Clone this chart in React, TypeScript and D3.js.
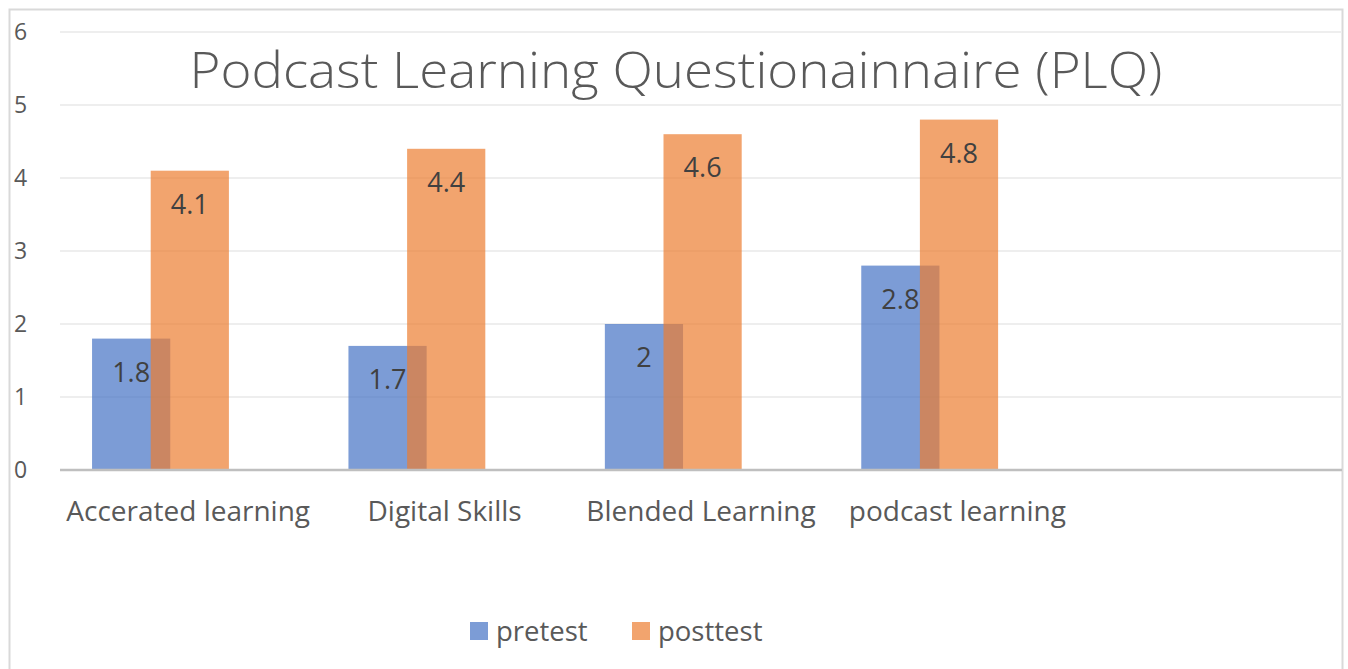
import React from 'react';
import * as d3 from 'd3';

const categories = ['Accerated learning', 'Digital Skills', 'Blended Learning', 'podcast learning', ''];
const pretest = [1.8, 1.7, 2, 2.8];
const posttest = [4.1, 4.4, 4.6, 4.8];
const seriesNames = ['pretest', 'posttest'];
const yTicks = [0, 1, 2, 3, 4, 5, 6];

const W = 1348;
const H = 669;
const FONT = '"Open Sans", "Noto Sans", sans-serif';
const BLUE = '#4472C4';
const ORANGE = '#ED7D31';

const App = () => {
  const x = d3.scaleBand().domain(categories).range([60, 1342]).padding(0);
  const y = d3.scaleLinear().domain([0, 6]).range([470, 32]);

  const bw = x.bandwidth();
  const barW = bw * 0.305;
  const seriesStep = barW * 0.75;
  const clusterOffset = bw * 0.125;

  const series = [
    { name: seriesNames[0], values: pretest, color: BLUE, i: 0 },
    { name: seriesNames[1], values: posttest, color: ORANGE, i: 1 },
  ];

  return (
    <svg width={W} height={H} style={{ position: 'absolute', left: 0, top: 0 }} fontFamily={FONT}>
      <rect x={0} y={0} width={W} height={H} fill="#fff" />
      <rect x={9.5} y={9.5} width={1333} height={720} fill="none" stroke="#d9d9d9" strokeWidth={2} />

      {yTicks.filter(t => t > 0).map(t => (
        <line key={t} x1={60} x2={1342} y1={y(t)} y2={y(t)} stroke="#eeeeee" strokeWidth={2} />
      ))}
      {yTicks.map(t => (
        <text key={'l' + t} x={14} y={y(t) + 8} fontSize={23} fill="#595959">{t}</text>
      ))}

      <text x={676} y={88} textAnchor="middle" fontSize={49} fontWeight={300} fill="#595959"
        textLength={973} lengthAdjust="spacingAndGlyphs">
        Podcast Learning Questionainnaire (PLQ)
      </text>

      {series.map(s => (
        <g key={s.name}>
          {s.values.map((v, j) => {
            const x0 = (x(categories[j]) as number) + clusterOffset + s.i * seriesStep;
            return (
              <rect key={j} x={x0} y={y(v)} width={barW} height={y(0) - y(v)} fill={s.color} fillOpacity={0.7} />
            );
          })}
        </g>
      ))}
      {series.map(s => (
        <g key={'t' + s.name}>
          {s.values.map((v, j) => {
            const x0 = (x(categories[j]) as number) + clusterOffset + s.i * seriesStep;
            return (
              <text key={j} x={x0 + barW / 2} y={y(v) + 43} textAnchor="middle" fontSize={27} fill="#404040">{v}</text>
            );
          })}
        </g>
      ))}

      <line x1={60} x2={1342} y1={y(0)} y2={y(0)} stroke="#bfbfbf" strokeWidth={2.5} />

      {categories.map(c => (
        <text key={c} x={(x(c) as number) + bw / 2} y={521} textAnchor="middle" fontSize={28} fill="#595959">{c}</text>
      ))}

      {series.map((s, i) => {
        const lx = i === 0 ? 470 : 632;
        return (
          <g key={'lg' + s.name}>
            <rect x={lx} y={622} width={18} height={18} fill={s.color} fillOpacity={0.7} />
            <text x={lx + 26} y={641} fontSize={27.5} fill="#595959">{s.name}</text>
          </g>
        );
      })}
    </svg>
  );
};

export default App;
